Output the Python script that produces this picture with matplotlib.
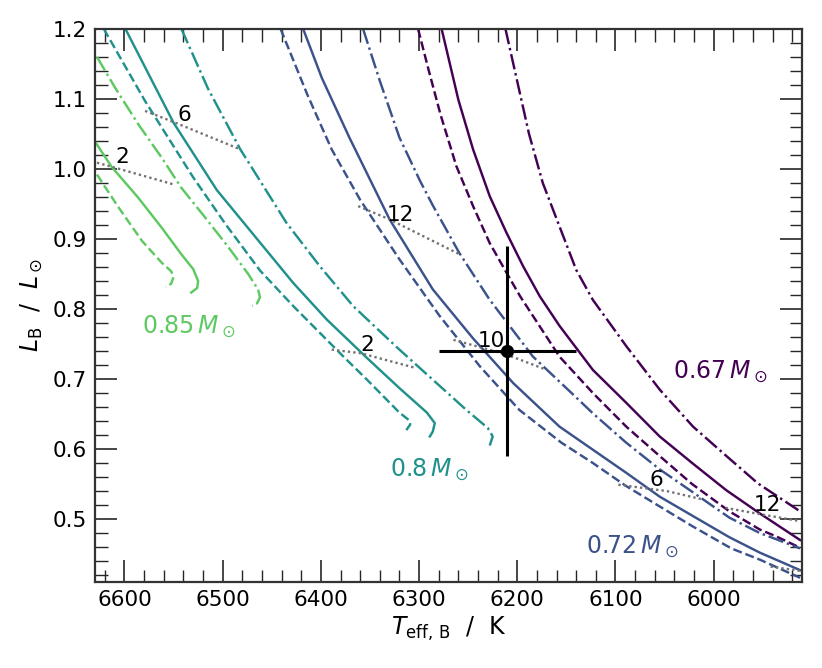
import matplotlib
matplotlib.use("Agg")
import matplotlib.pyplot as plt
from matplotlib.ticker import MultipleLocator

# evolutionary tracks, Teff (K) and L (Lsun)
# 0.67 Msun
t67_solid = [6277, 6260, 6245, 6228, 6211, 6194, 6177, 6157, 6123, 6089, 6055, 6021, 5987, 5953, 5912]
l67_solid = [1.200, 1.099, 1.028, 0.961, 0.909, 0.861, 0.818, 0.776, 0.713, 0.666, 0.618, 0.579, 0.541, 0.508, 0.470]
t67_dash = [6301, 6290, 6278, 6262, 6245, 6228, 6211, 6197, 6157, 6123, 6089, 6055, 6022, 5984, 5953, 5936, 5912]
l67_dash = [1.200, 1.140, 1.077, 1.004, 0.947, 0.894, 0.852, 0.818, 0.732, 0.680, 0.632, 0.590, 0.550, 0.511, 0.485, 0.475, 0.459]
t67_dashdot = [6212, 6200, 6188, 6174, 6157, 6140, 6123, 6089, 6055, 6021, 5987, 5955, 5912]
l67_dashdot = [1.200, 1.125, 1.050, 0.980, 0.918, 0.856, 0.813, 0.747, 0.685, 0.632, 0.590, 0.551, 0.511]

# 0.72 Msun
t72_solid = [6418, 6399, 6371, 6330, 6286, 6245, 6204, 6157, 6123, 6089, 6055, 6022, 5984, 5953, 5912]
l72_solid = [1.200, 1.130, 1.045, 0.928, 0.828, 0.758, 0.694, 0.632, 0.599, 0.566, 0.532, 0.505, 0.474, 0.452, 0.427]
t72_dash = [6441, 6414, 6389, 6360, 6320, 6279, 6238, 6198, 6155, 6123, 6089, 6055, 6022, 5982, 5953, 5912]
l72_dash = [1.200, 1.107, 1.028, 0.956, 0.871, 0.790, 0.718, 0.656, 0.609, 0.580, 0.547, 0.518, 0.490, 0.458, 0.442, 0.416]
t72_dashdot = [6357, 6340, 6320, 6299, 6286, 6259, 6228, 6184, 6147, 6123, 6089, 6055, 6023, 5984, 5953, 5936, 5912]
l72_dashdot = [1.200, 1.126, 1.045, 0.983, 0.948, 0.880, 0.813, 0.732, 0.683, 0.651, 0.609, 0.571, 0.540, 0.502, 0.480, 0.471, 0.458]

# 0.8 Msun
t80_solid = [6599, 6550, 6506, 6428, 6394, 6353, 6320, 6292, 6284, 6286, 6289]
l80_solid = [1.200, 1.066, 0.970, 0.837, 0.785, 0.730, 0.687, 0.652, 0.637, 0.625, 0.618]
t80_dash = [6621, 6579, 6530, 6497, 6462, 6428, 6394, 6377, 6353, 6320, 6310, 6309, 6313]
l80_dash = [1.200, 1.097, 0.988, 0.921, 0.855, 0.804, 0.756, 0.732, 0.699, 0.652, 0.641, 0.635, 0.627]
t80_dashdot = [6542, 6515, 6482, 6435, 6401, 6367, 6342, 6320, 6286, 6252, 6230, 6225, 6228]
l80_dashdot = [1.200, 1.115, 1.028, 0.923, 0.861, 0.804, 0.771, 0.742, 0.699, 0.656, 0.630, 0.618, 0.605]

# 0.85 Msun
t85_solid = [6629, 6613, 6586, 6562, 6542, 6530, 6525, 6526, 6532]
l85_solid = [1.037, 1.003, 0.959, 0.916, 0.878, 0.857, 0.840, 0.830, 0.8235]
t85_dash = [6628, 6606, 6582, 6562, 6552.5, 6550, 6552.5, 6558]
l85_dash = [0.992, 0.945, 0.897, 0.866, 0.854, 0.846, 0.836, 0.8316]
t85_dashdot = [6628, 6609.5, 6586, 6562, 6542, 6518, 6494, 6474, 6464, 6462, 6465, 6470]
l85_dashdot = [1.160, 1.116, 1.064, 1.016, 0.973, 0.931, 0.888, 0.850, 0.828, 0.817, 0.808, 0.8045]

# isochrones (Gyr)
iso_ages = ['2', '6', '12', '2', '10', '6', '12', '']
iso_t = [[6628, 6610, 6550],
         [6579, 6548, 6482],
         [6362, 6330, 6258.5],
         [6389, 6360, 6304],
         [6265, 6211, 6170],
         [6097, 6048, 6011],
         [5988, 5957, 5912],
         [5942, 5912]]
iso_l = [[1.009, 1.002, 0.978],
         [1.083, 1.066, 1.028],
         [0.947, 0.928, 0.878],
         [0.742, 0.737, 0.716],
         [0.756, 0.735, 0.713],
         [0.549, 0.540, 0.528],
         [0.516, 0.508, 0.497],
         [0.432, 0.426]]
iso_label_t = [6602.6, 6539, 6319.5, 6352.4, 6226, 6058.4, 5945, None]
iso_label_l = [1.017, 1.077, 0.935, 0.748, 0.754, 0.556, 0.5205, None]

# observed component B
teff_b, teff_b_err = 6210, 70
lum_b, lum_b_err = 0.74, 0.15

masses = ['0.67', '0.72', '0.8', '0.85']
mass_colors = ['#440154', '#3b528b', '#21918c', '#5ec962']
mass_label_t = [6041, 6130, 6330, 6582]
mass_label_l = [0.701, 0.451, 0.561, 0.765]

tracks = [
    [(t67_solid, l67_solid), (t67_dash, l67_dash), (t67_dashdot, l67_dashdot)],
    [(t72_solid, l72_solid), (t72_dash, l72_dash), (t72_dashdot, l72_dashdot)],
    [(t80_solid, l80_solid), (t80_dash, l80_dash), (t80_dashdot, l80_dashdot)],
    [(t85_solid, l85_solid), (t85_dash, l85_dash), (t85_dashdot, l85_dashdot)],
]
styles = ['-', '--', '-.']

fig = plt.figure(figsize=(8.22, 6.68), dpi=100)
ax = fig.add_axes([0.1156, 0.1287, 0.8601, 0.8279])

for col, trk in zip(mass_colors, tracks):
    for ls, (t, l) in zip(styles, trk):
        ax.plot(t, l, ls=ls, color=col, lw=1.75, solid_joinstyle='round')

for t, l in zip(iso_t, iso_l):
    ax.plot(t, l, ls=(0, (1, 1.3)), color='0.45', lw=1.7)
for lab, t, l in zip(iso_ages, iso_label_t, iso_label_l):
    if t is not None:
        ax.text(t, l, lab, fontsize=15.5, ha='center', va='center')

for m, col, t, l in zip(masses, mass_colors, mass_label_t, mass_label_l):
    ax.text(t, l, r'$%s\,M_\odot$' % m, color=col, fontsize=17,
            ha='left', va='baseline')

ax.errorbar(teff_b, lum_b, xerr=teff_b_err, yerr=lum_b_err, fmt='o',
            color='k', ms=8.5, elinewidth=2.2, capsize=0, zorder=5)

ax.set_xlim(6630, 5910)
ax.set_ylim(0.41, 1.2)
ax.set_xticks([6600, 6500, 6400, 6300, 6200, 6100, 6000])
ax.set_yticks([0.5, 0.6, 0.7, 0.8, 0.9, 1.0, 1.1, 1.2])
ax.xaxis.set_minor_locator(MultipleLocator(20))
ax.yaxis.set_minor_locator(MultipleLocator(0.02))
ax.tick_params(which='both', direction='in', top=True, right=True,
               labelsize=15.5, pad=6, color='0.15')
ax.tick_params(which='major', length=16, width=1.2)
ax.tick_params(which='minor', length=9, width=1.0)
for sp in ax.spines.values():
    sp.set_linewidth(1.6)
    sp.set_color('0.2')

ax.set_xlabel(r'$T_{\rm eff,\,B}$  /  K', fontsize=17, labelpad=3)
ax.set_ylabel(r'$L_{\rm B}$  /  $L_\odot$', fontsize=17, labelpad=5)

fig.savefig('out.png', dpi=100)
